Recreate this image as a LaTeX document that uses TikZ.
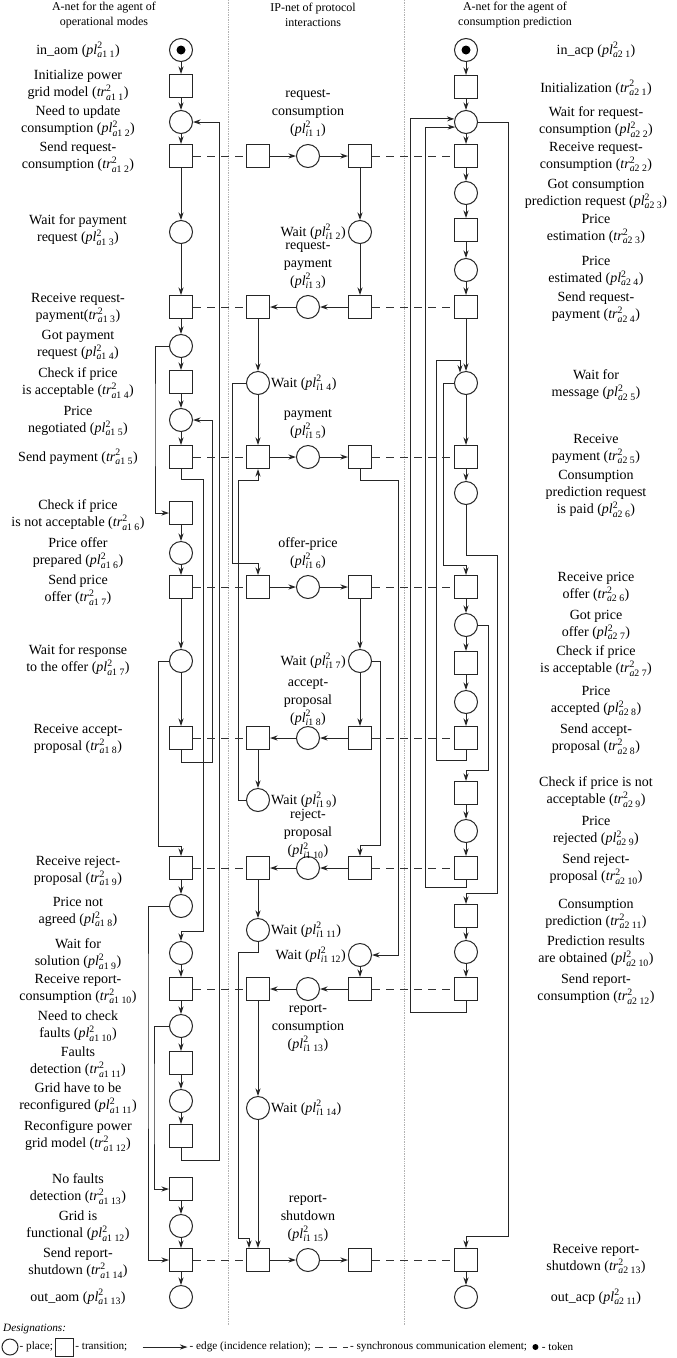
\documentclass[tikz,border=0pt]{standalone}
\usepackage{fontspec}
\usepackage{amsmath}
\setmainfont{Liberation Serif}
\usepackage{tikz}
\usetikzlibrary{arrows.meta,positioning}
\newcommand{\plc}[3]{\textit{pl}$^{\text{2}}_{\textit{#1}\text{#2\ #3}}$}
\newcommand{\trc}[3]{\textit{tr}$^{\text{2}}_{\textit{#1}\text{#2\ #3}}$}
\newcommand{\bodyfont}{\fontsize{14}{17}\selectfont}
\newcommand{\legfont}{\fontsize{11.2}{13}\selectfont}

\begin{document}
\begin{tikzpicture}[x=1pt,y=-1pt,
  place/.style={circle,draw=black!85,line width=1pt,minimum size=23pt,inner sep=0pt},
  trans/.style={rectangle,draw=black!85,line width=1pt,minimum width=23pt,minimum height=23pt,inner sep=0pt},
  token/.style={circle,fill=black,minimum size=9pt,inner sep=0pt},
  flow/.style={-{Stealth[length=7.5pt,width=5pt]},line width=1pt,draw=black!85},
  sync/.style={line width=1pt,draw=black!80,dash pattern=on 8pt off 6pt},
  divider/.style={densely dotted,draw=gray!60,line width=0.7pt},
  lbl/.style={font=\bodyfont,align=center,inner sep=0pt},
  ilbl/.style={font=\fontsize{14}{18}\selectfont,align=center,inner sep=0pt},
  hdr/.style={font=\fontsize{12}{15}\selectfont,align=center,inner sep=0pt},
  lgtxt/.style={font=\legfont,inner sep=1pt}
]
  \useasboundingbox (0,0) rectangle (677,1358);
  % headers
  \node[hdr] (h1) at (104,15) {A-net for the agent of\\operational modes};
  \node[hdr] (h2) at (313,15) {IP-net of protocol\\interactions};
  \node[hdr] (h3) at (515,15) {A-net for the agent of\\consumption prediction};
  % dividers
  \foreach \x in {228,404} { \draw[divider] (\x,0) -- (\x,1325); }

  % ---- A-net of operational modes
  \node[place] (a1p1)  at (181,50)   {};
  \node[token] (tok1)  at (a1p1)     {};
  \node[trans] (a1t1)  at (181,86)   {};
  \node[place] (a1p2)  at (181,122)  {};
  \node[trans] (a1t2)  at (181,156)  {};
  \node[place] (a1p3)  at (181,232)  {};
  \node[trans] (a1t3)  at (181,307)  {};
  \node[place] (a1p4)  at (181,346)  {};
  \node[trans] (a1t4)  at (181,382)  {};
  \node[place] (a1p5)  at (181,420)  {};
  \node[trans] (a1t5)  at (181,457)  {};
  \node[trans] (a1t6)  at (181,513)  {};
  \node[place] (a1p6)  at (181,553)  {};
  \node[trans] (a1t7)  at (181,587)  {};
  \node[place] (a1p7)  at (181,661)  {};
  \node[trans] (a1t8)  at (181,738)  {};
  \node[trans] (a1t9)  at (181,868)  {};
  \node[place] (a1p8)  at (181,906)  {};
  \node[place] (a1p9)  at (181,953)  {};
  \node[trans] (a1t10) at (181,989)  {};
  \node[place] (a1p10) at (181,1026) {};
  \node[trans] (a1t11) at (181,1063) {};
  \node[place] (a1p11) at (181,1101) {};
  \node[trans] (a1t12) at (181,1136) {};
  \node[trans] (a1t13) at (181,1189) {};
  \node[place] (a1p12) at (181,1226) {};
  \node[trans] (a1t14) at (181,1260) {};
  \node[place] (a1p13) at (181,1297) {};

  \node[lbl] (la1p1)  at (78,50)   {in\_aom (\plc{a}{1}{1})};
  \node[lbl] (la1t1)  at (78,85)   {Initialize power\\grid model (\trc{a}{1}{1})};
  \node[lbl] (la1p2)  at (78,121)  {Need to update\\consumption (\plc{a}{1}{2})};
  \node[lbl] (la1t2)  at (78,157)  {Send request-\\consumption (\trc{a}{1}{2})};
  \node[lbl] (la1p3)  at (78,230)  {Wait for payment\\request (\plc{a}{1}{3})};
  \node[lbl] (la1t3)  at (78,308)  {Receive request-\\payment(\trc{a}{1}{3})};
  \node[lbl] (la1p4)  at (78,345)  {Got payment\\request (\plc{a}{1}{4})};
  \node[lbl] (la1t4)  at (78,383)  {Check if price\\is acceptable (\trc{a}{1}{4})};
  \node[lbl] (la1p5)  at (78,421)  {Price\\negotiated (\plc{a}{1}{5})};
  \node[lbl] (la1t5)  at (78,457)  {Send payment (\trc{a}{1}{5})};
  \node[lbl] (la1t6)  at (78,515)  {Check if price\\is not acceptable (\trc{a}{1}{6})};
  \node[lbl] (la1p6)  at (78,553)  {Price offer\\prepared (\plc{a}{1}{6})};
  \node[lbl] (la1t7)  at (78,590)  {Send price\\offer (\trc{a}{1}{7})};
  \node[lbl] (la1p7)  at (78,660)  {Wait for response\\to the offer (\plc{a}{1}{7})};
  \node[lbl] (la1t8)  at (78,739)  {Receive accept-\\proposal (\trc{a}{1}{8})};
  \node[lbl] (la1t9)  at (78,871)  {Receive reject-\\proposal (\trc{a}{1}{9})};
  \node[lbl] (la1p8)  at (78,912)  {Price not\\agreed (\plc{a}{1}{8})};
  \node[lbl] (la1p9)  at (78,954)  {Wait for\\solution (\plc{a}{1}{9})};
  \node[lbl] (la1t10) at (78,989)  {Receive report-\\consumption (\trc{a}{1}{10})};
  \node[lbl] (la1p10) at (78,1026) {Need to check\\faults (\plc{a}{1}{10})};
  \node[lbl] (la1t11) at (78,1062) {Faults\\detection (\trc{a}{1}{11})};
  \node[lbl] (la1p11) at (78,1098) {Grid have to be\\reconfigured (\plc{a}{1}{11})};
  \node[lbl] (la1t12) at (78,1136) {Reconfigure power\\grid model (\trc{a}{1}{12})};
  \node[lbl] (la1t13) at (78,1189) {No faults\\detection (\trc{a}{1}{13})};
  \node[lbl] (la1p12) at (78,1226) {Grid is\\functional (\plc{a}{1}{12})};
  \node[lbl] (la1t14) at (78,1263) {Send report-\\shutdown (\trc{a}{1}{14})};
  \node[lbl] (la1p13) at (78,1297) {out\_aom (\plc{a}{1}{13})};

  % ---- IP-net of protocol interactions
  \node[trans] (itL1) at (258,156)  {};
  \node[place] (ip1)  at (308,156)  {};
  \node[trans] (itR1) at (360,156)  {};
  \node[place] (ip2)  at (360,232)  {};
  \node[trans] (itL2) at (258,307)  {};
  \node[place] (ip3)  at (308,307)  {};
  \node[trans] (itR2) at (360,307)  {};
  \node[place] (ip4)  at (258,383)  {};
  \node[trans] (itL3) at (258,457)  {};
  \node[place] (ip5)  at (308,457)  {};
  \node[trans] (itR3) at (360,457)  {};
  \node[trans] (itL4) at (258,587)  {};
  \node[place] (ip6)  at (308,587)  {};
  \node[trans] (itR4) at (360,587)  {};
  \node[place] (ip7)  at (360,661)  {};
  \node[trans] (itL5) at (258,738)  {};
  \node[place] (ip8)  at (308,738)  {};
  \node[trans] (itR5) at (360,738)  {};
  \node[place] (ip9)  at (258,800)  {};
  \node[trans] (itL6) at (258,868)  {};
  \node[place] (ip10) at (308,868)  {};
  \node[trans] (itR6) at (360,868)  {};
  \node[place] (ip11) at (258,930)  {};
  \node[place] (ip12) at (360,955)  {};
  \node[trans] (itL7) at (258,989)  {};
  \node[place] (ip13) at (308,989)  {};
  \node[trans] (itR7) at (360,989)  {};
  \node[place] (ip14) at (258,1108) {};
  \node[trans] (itL8) at (258,1260) {};
  \node[place] (ip15) at (308,1260) {};
  \node[trans] (itR8) at (360,1260) {};

  \node[ilbl] (lip1)  at (308,113)  {request-\\consumption\\(\plc{i}{1}{1})};
  \node[ilbl,anchor=east] (lip2)  at (346,232)  {Wait (\plc{i}{1}{2})};
  \node[ilbl] (lip3)  at (308,265)  {request-\\payment\\(\plc{i}{1}{3})};
  \node[ilbl,anchor=west] (lip4)  at (271,383)  {Wait (\plc{i}{1}{4})};
  \node[ilbl] (lip5)  at (308,424)  {payment\\(\plc{i}{1}{5})};
  \node[ilbl] (lip6)  at (308,553)  {offer-price\\(\plc{i}{1}{6})};
  \node[ilbl,anchor=east] (lip7)  at (346,661)  {Wait (\plc{i}{1}{7})};
  \node[ilbl] (lip8)  at (308,702)  {accept-\\proposal\\(\plc{i}{1}{8})};
  \node[ilbl,anchor=west] (lip9)  at (271,800)  {Wait (\plc{i}{1}{9})};
  \node[ilbl] (lip10) at (308,834)  {reject-\\proposal\\(\plc{i}{1}{10})};
  \node[ilbl,anchor=west] (lip11) at (271,930)  {Wait (\plc{i}{1}{11})};
  \node[ilbl,anchor=east] (lip12) at (346,955)  {Wait (\plc{i}{1}{12})};
  \node[ilbl] (lip13) at (308,1028) {report-\\consumption\\(\plc{i}{1}{13})};
  \node[ilbl,anchor=west] (lip14) at (271,1108) {Wait (\plc{i}{1}{14})};
  \node[ilbl] (lip15) at (308,1218) {report-\\shutdown\\(\plc{i}{1}{15})};

  % ---- A-net of consumption prediction
  \node[place] (a2p1)  at (466,50)   {};
  \node[token] (tok2)  at (a2p1)     {};
  \node[trans] (a2t1)  at (466,87)   {};
  \node[place] (a2p2)  at (466,122)  {};
  \node[trans] (a2t2)  at (466,156)  {};
  \node[place] (a2p3)  at (466,193)  {};
  \node[trans] (a2t3)  at (466,230)  {};
  \node[place] (a2p4)  at (466,270)  {};
  \node[trans] (a2t4)  at (466,307)  {};
  \node[place] (a2p5)  at (466,383)  {};
  \node[trans] (a2t5)  at (466,457)  {};
  \node[place] (a2p6)  at (466,493)  {};
  \node[trans] (a2t6)  at (466,587)  {};
  \node[place] (a2p7)  at (466,625)  {};
  \node[trans] (a2t7)  at (466,663)  {};
  \node[place] (a2p8)  at (466,702)  {};
  \node[trans] (a2t8)  at (466,738)  {};
  \node[trans] (a2t9)  at (466,793)  {};
  \node[place] (a2p9)  at (466,831)  {};
  \node[trans] (a2t10) at (466,868)  {};
  \node[trans] (a2t11) at (466,916)  {};
  \node[place] (a2p10) at (466,952)  {};
  \node[trans] (a2t12) at (466,989)  {};
  \node[trans] (a2t13) at (466,1260) {};
  \node[place] (a2p11) at (466,1297) {};

  \node[lbl] (la2p1)  at (596,50)   {in\_acp (\plc{a}{2}{1})};
  \node[lbl] (la2t1)  at (596,88)   {Initialization (\trc{a}{2}{1})};
  \node[lbl] (la2p2)  at (596,122)  {Wait for request-\\consumption (\plc{a}{2}{2})};
  \node[lbl] (la2t2)  at (596,157)  {Receive request-\\consumption (\trc{a}{2}{2})};
  \node[lbl] (la2p3)  at (596,194)  {Got consumption\\prediction request (\plc{a}{2}{3})};
  \node[lbl] (la2t3)  at (596,229)  {Price\\estimation (\trc{a}{2}{3})};
  \node[lbl] (la2p4)  at (596,271)  {Price\\estimated (\plc{a}{2}{4})};
  \node[lbl] (la2t4)  at (596,307)  {Send request-\\payment (\trc{a}{2}{4})};
  \node[lbl] (la2p5)  at (596,385)  {Wait for\\message (\plc{a}{2}{5})};
  \node[lbl] (la2t5)  at (596,449)  {Receive\\payment (\trc{a}{2}{5})};
  \node[lbl] (la2p6)  at (596,494)  {Consumption\\prediction request\\is paid (\plc{a}{2}{6})};
  \node[lbl] (la2t6)  at (596,587)  {Receive price\\offer (\trc{a}{2}{6})};
  \node[lbl] (la2p7)  at (596,625)  {Got price\\offer (\plc{a}{2}{7})};
  \node[lbl] (la2t7)  at (596,661)  {Check if price\\is acceptable (\trc{a}{2}{7})};
  \node[lbl] (la2p8)  at (596,701)  {Price\\accepted (\plc{a}{2}{8})};
  \node[lbl] (la2t8)  at (596,739)  {Send accept-\\proposal (\trc{a}{2}{8})};
  \node[lbl] (la2t9)  at (596,792)  {Check if price is not\\acceptable (\trc{a}{2}{9})};
  \node[lbl] (la2p9)  at (596,831)  {Price\\rejected (\plc{a}{2}{9})};
  \node[lbl] (la2t10) at (596,869)  {Send reject-\\proposal (\trc{a}{2}{10})};
  \node[lbl] (la2t11) at (596,914)  {Consumption\\prediction (\trc{a}{2}{11})};
  \node[lbl] (la2p10) at (596,951)  {Prediction results\\are obtained (\plc{a}{2}{10})};
  \node[lbl] (la2t12) at (596,989)  {Send report-\\consumption (\trc{a}{2}{12})};
  \node[lbl] (la2t13) at (596,1259) {Receive report-\\shutdown (\trc{a}{2}{13})};
  \node[lbl] (la2p11) at (596,1297) {out\_acp (\plc{a}{2}{11})};

  % ---- edges, left A-net
  \draw[flow] (a1p1) -- (a1t1);
  \draw[flow] (a1t1) -- (a1p2);
  \draw[flow] (a1p2) -- (a1t2);
  \draw[flow] (a1t2) -- (a1p3);
  \draw[flow] (a1p3) -- (a1t3);
  \draw[flow] (a1t3) -- (a1p4);
  \draw[flow] (a1p4) -- (a1t4);
  \draw[flow] (a1t4) -- (a1p5);
  \draw[flow] (a1p5) -- (a1t5);
  \draw[flow] (a1t6) -- (a1p6);
  \draw[flow] (a1p6) -- (a1t7);
  \draw[flow] (a1t7) -- (a1p7);
  \draw[flow] (a1p7) -- (a1t8);
  \draw[flow] (a1t9) -- (a1p8);
  \draw[flow] (a1p9) -- (a1t10);
  \draw[flow] (a1t10) -- (a1p10);
  \draw[flow] (a1p10) -- (a1t11);
  \draw[flow] (a1t11) -- (a1p11);
  \draw[flow] (a1p11) -- (a1t12);
  \draw[flow] (a1t13) -- (a1p12);
  \draw[flow] (a1p12) -- (a1t14);
  \draw[flow] (a1t14) -- (a1p13);
  \draw[flow] (a1t12.south) |- (219,1160) |- (a1p2.east);
  \draw[flow] (a1t8.south) |- (212,762) |- (a1p5.east);
  \draw[flow] (a1t5.south) |- (203,479) -- (203,931) -| (a1p9.north);
  \draw[flow] (a1p4.west) -| (155,420) |- (a1t6.west);
  \draw[flow] (a1p7.west) -| (158,846) -| (a1t9.north);
  \draw[flow] (a1p8.west) -| (148,1000) |- (a1t14.west);
  \draw[flow] (a1p10.west) -| (154,1100) |- (a1t13.west);

  % ---- edges, IP-net
  \draw[flow] (itL1) -- (ip1);
  \draw[flow] (ip1) -- (itR1);
  \draw[flow] (itR1) -- (ip2);
  \draw[flow] (ip2) -- (itR2);
  \draw[flow] (itR2) -- (ip3);
  \draw[flow] (ip3) -- (itL2);
  \draw[flow] (itL2) -- (ip4);
  \draw[flow] (ip4) -- (itL3);
  \draw[flow] (itL3) -- (ip5);
  \draw[flow] (ip5) -- (itR3);
  \draw[flow] (itL4) -- (ip6);
  \draw[flow] (ip6) -- (itR4);
  \draw[flow] (itR4) -- (ip7);
  \draw[flow] (ip7) -- (itR5);
  \draw[flow] (itR5) -- (ip8);
  \draw[flow] (ip8) -- (itL5);
  \draw[flow] (itL5) -- (ip9);
  \draw[flow] (itR6) -- (ip10);
  \draw[flow] (ip10) -- (itL6);
  \draw[flow] (itL6) -- (ip11);
  \draw[flow] (ip12) -- (itR7);
  \draw[flow] (itR7) -- (ip13);
  \draw[flow] (ip13) -- (itL7);
  \draw[flow] (itL7) -- (ip14);
  \draw[flow] (ip14) -- (itL8);
  \draw[flow] (itL8) -- (ip15);
  \draw[flow] (ip15) -- (itR8);
  \draw[flow] (ip4.west) -| (232,563) -| (itL4.north);
  \draw[flow] (ip9.west) -| (238,480) -| (itL3.south);
  \draw[flow] (itR3.south) |- (398,480) |- (ip12.east);
  \draw[flow] (ip7.east) -| (380,845) -| (itR6.north);
  \draw[flow] (ip11.south) |- (238,952) -- (238,1238) -| ([xshift=-9pt]itL8.north);

  % ---- edges, right A-net
  \draw[flow] (a2p1) -- (a2t1);
  \draw[flow] (a2t1) -- (a2p2);
  \draw[flow] (a2p2) -- (a2t2);
  \draw[flow] (a2t2) -- (a2p3);
  \draw[flow] (a2p3) -- (a2t3);
  \draw[flow] (a2t3) -- (a2p4);
  \draw[flow] (a2p4) -- (a2t4);
  \draw[flow] (a2t4) -- (a2p5);
  \draw[flow] (a2p5) -- (a2t5);
  \draw[flow] (a2t5) -- (a2p6);
  \draw[flow] (a2t6) -- (a2p7);
  \draw[flow] (a2p7) -- (a2t7);
  \draw[flow] (a2t7) -- (a2p8);
  \draw[flow] (a2p8) -- (a2t8);
  \draw[flow] (a2t9) -- (a2p9);
  \draw[flow] (a2p9) -- (a2t10);
  \draw[flow] (a2t11) -- (a2p10);
  \draw[flow] (a2p10) -- (a2t12);
  \draw[flow] (a2t13) -- (a2p11);
  \draw[flow] (a2p2.east) -| (508,1236) -| (a2t13.north);
  \draw[flow] (a2t12.south) |- (410,1012) |- (a2p2.165);
  \draw[flow] (a2t10.south) |- (425,887) |- (a2p2.205);
  \draw[flow] (a2t8.south) |- (436,760) -- (436,360) -| (a2p5.120);
  \draw[flow] (a2p5.west) -| (443,565) -| (a2t6.north);
  \draw[flow] (a2p6.south) |- (497,555) -- (497,893) -| (a2t11.north);
  \draw[flow] (a2p7.east) -| (488,770) -| (a2t9.north);

  % ---- synchronous communication
  \draw[sync] (a1t2) -- (itL1);  \draw[sync] (itR1) -- (a2t2);
  \draw[sync] (a1t3) -- (itL2);  \draw[sync] (itR2) -- (a2t4);
  \draw[sync] (a1t5) -- (itL3);  \draw[sync] (itR3) -- (a2t5);
  \draw[sync] (a1t7) -- (itL4);  \draw[sync] (itR4) -- (a2t6);
  \draw[sync] (a1t8) -- (itL5);  \draw[sync] (itR5) -- (a2t8);
  \draw[sync] (a1t9) -- (itL6);  \draw[sync] (itR6) -- (a2t10);
  \draw[sync] (a1t10) -- (itL7); \draw[sync] (itR7) -- (a2t12);
  \draw[sync] (a1t14) -- (itL8); \draw[sync] (itR8) -- (a2t13);

  % ---- designations
  \node[lgtxt,font=\legfont\itshape,anchor=west] (desig) at (2,1329) {Designations:};
  \node[place,minimum size=16pt] (lgpl) at (10,1347) {};
  \node[lgtxt,right=0pt of lgpl] (lgpltxt) {- place;};
  \node[trans,minimum width=18pt,minimum height=18pt,right=1pt of lgpltxt] (lgtr) {};
  \node[lgtxt,right=0pt of lgtr] (lgtrtxt) {- transition;};
  \coordinate[right=14pt of lgtrtxt] (lgfa);
  \coordinate[right=45pt of lgfa] (lgfb);
  \draw[flow] (lgfa) -- (lgfb);
  \node[lgtxt,right=1pt of lgfb] (lgftxt) {- edge (incidence relation);};
  \coordinate[right=3pt of lgftxt] (lgsa);
  \coordinate[right=33pt of lgsa] (lgsb);
  \draw[sync] (lgsa) -- (lgsb);
  \node[lgtxt,right=1pt of lgsb] (lgstxt) {- synchronous communication element;};
  \node[token,minimum size=6pt,right=4pt of lgstxt] (lgtok) {};
  \node[lgtxt,right=2pt of lgtok] (lgtoktxt) {- token};
\end{tikzpicture}
\end{document}
